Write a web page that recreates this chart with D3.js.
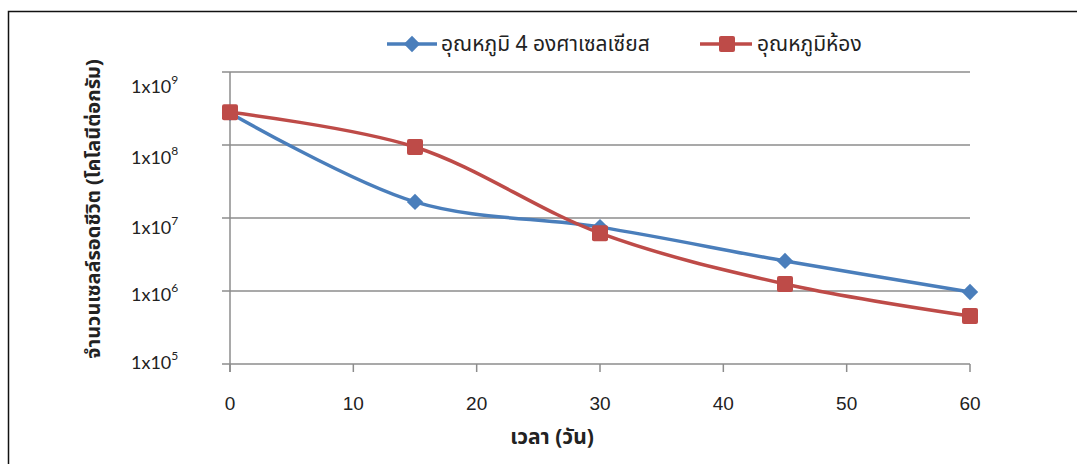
<!DOCTYPE html>
<html>
<head>
<meta charset="utf-8">
<script src="https://cdn.jsdelivr.net/npm/d3@7"></script>
<style>
  html, body { margin: 0; padding: 0; background: #fff; }
  svg { display: block; }
</style>
</head>
<body>
<svg id="chart" width="1077" height="464"></svg>
<script>
// ---- data ----
const days = [0, 15, 30, 45, 60];
const seriesNames = ["อุณหภูมิ 4 องศาเซลเซียส", "อุณหภูมิห้อง"];
const cold = [2.75e8, 1.66e7, 7.5e6, 2.58e6, 9.7e5];
const room = [2.8e8, 9.4e7, 6.2e6, 1.25e6, 4.55e5];
const yTicks = [1e5, 1e6, 1e7, 1e8, 1e9];
const yTickExp = ["5", "6", "7", "8", "9"];
const xTicks = [0, 10, 20, 30, 40, 50, 60];
const xTitle = "เวลา (วัน)";
const yTitle = "จำนวนเซลล์รอดชีวิต (โคโลนีต่อกรัม)";

// ---- layout / style ----
const svg = d3.select("#chart");
const pL = 230, pR = 970, pT = 72, pB = 364;
const blue = "#4A7EBB", red = "#BE4B48", grid = "#8C8C8C";
const labelNudge = [-1, 4, 10, 13, 15]; // label offsets matching reference

const x = d3.scaleLinear().domain([0, 60]).range([pL, pR]);
const y = d3.scaleLog().domain([1e5, 1e9]).range([pB, pT]);

// outer frame
svg.append("path").attr("d", "M8.5,464 L8.5,11.5 L1077,11.5")
  .attr("fill", "none").attr("stroke", "#111").attr("stroke-width", 1.5);

// gridlines (horizontal)
svg.append("g").selectAll("line").data(yTicks).join("line")
  .attr("x1", pL - 8).attr("x2", pR)
  .attr("y1", d => y(d)).attr("y2", d => y(d))
  .attr("stroke", grid).attr("stroke-width", 1.5);

// y axis line
svg.append("line").attr("x1", pL).attr("x2", pL)
  .attr("y1", pT).attr("y2", pB + 8)
  .attr("stroke", grid).attr("stroke-width", 1.5);

// x ticks
svg.append("g").selectAll("line").data(xTicks).join("line")
  .attr("x1", d => x(d)).attr("x2", d => x(d))
  .attr("y1", pB).attr("y2", pB + 8)
  .attr("stroke", grid).attr("stroke-width", 1.5);

// x tick labels
svg.append("g").selectAll("text").data(xTicks).join("text")
  .attr("x", d => x(d)).attr("y", 410)
  .attr("text-anchor", "middle")
  .attr("font-family", "'Liberation Sans Narrow', 'Liberation Sans', sans-serif")
  .attr("font-size", 19).attr("fill", "#222")
  .text(d => d);

// y tick labels 1x10^n
const yl = svg.append("g").selectAll("text").data(yTicks).join("text")
  .attr("x", 131).attr("y", (d, i) => y(d) + labelNudge[i] + 6)
  .attr("font-family", "Lato, 'Open Sans', sans-serif")
  .attr("font-size", 18).attr("fill", "#222");
yl.append("tspan").text("1x10");
yl.append("tspan").attr("dy", -9).attr("font-size", 12).text((d, i) => yTickExp[i]);

// axis titles
svg.append("text").attr("x", 552).attr("y", 444)
  .attr("text-anchor", "middle")
  .attr("font-family", "'Noto Sans', 'Noto Sans Thai', sans-serif")
  .attr("font-weight", "bold").attr("font-size", 21).attr("fill", "#222")
  .text(xTitle);
svg.append("text")
  .attr("transform", "translate(100,209) rotate(-90)")
  .attr("text-anchor", "middle")
  .attr("font-family", "'Noto Sans', 'Noto Sans Thai', sans-serif")
  .attr("font-weight", "bold").attr("font-size", 20).attr("fill", "#222")
  .text(yTitle);

// lines
const line = d3.line().x((d, i) => x(days[i])).y(d => y(d))
  .curve(d3.curveCatmullRom.alpha(0.5));
svg.append("path").datum(cold).attr("d", line)
  .attr("fill", "none").attr("stroke", blue).attr("stroke-width", 3.5);
svg.append("path").datum(room).attr("d", line)
  .attr("fill", "none").attr("stroke", red).attr("stroke-width", 3.5);

// markers
const diamond = d3.symbol().type(d3.symbolDiamond2).size(170);
svg.append("g").selectAll("path").data(cold).join("path")
  .attr("d", diamond)
  .attr("transform", (d, i) => `translate(${x(days[i])},${y(d)})`)
  .attr("fill", blue);
svg.append("g").selectAll("rect").data(room).join("rect")
  .attr("x", (d, i) => x(days[i]) - 8).attr("y", d => y(d) - 8)
  .attr("width", 16).attr("height", 16).attr("rx", 2)
  .attr("fill", red);

// legend
const lg = svg.append("g");
lg.append("line").attr("x1", 387).attr("x2", 437).attr("y1", 44).attr("y2", 44)
  .attr("stroke", blue).attr("stroke-width", 3.5);
lg.append("path").attr("d", diamond).attr("transform", "translate(412,44)").attr("fill", blue);
lg.append("text").attr("x", 441).attr("y", 51)
  .attr("font-family", "'Noto Sans', 'Noto Sans Thai', sans-serif")
  .attr("font-size", 21).attr("fill", "#222").text(seriesNames[0]);
lg.append("line").attr("x1", 700).attr("x2", 752).attr("y1", 44).attr("y2", 44)
  .attr("stroke", red).attr("stroke-width", 3.5);
lg.append("rect").attr("x", 719).attr("y", 36).attr("width", 16).attr("height", 16)
  .attr("rx", 2).attr("fill", red);
lg.append("text").attr("x", 757).attr("y", 51)
  .attr("font-family", "'Noto Sans', 'Noto Sans Thai', sans-serif")
  .attr("font-size", 21).attr("fill", "#222").text(seriesNames[1]);
</script>
</body>
</html>
